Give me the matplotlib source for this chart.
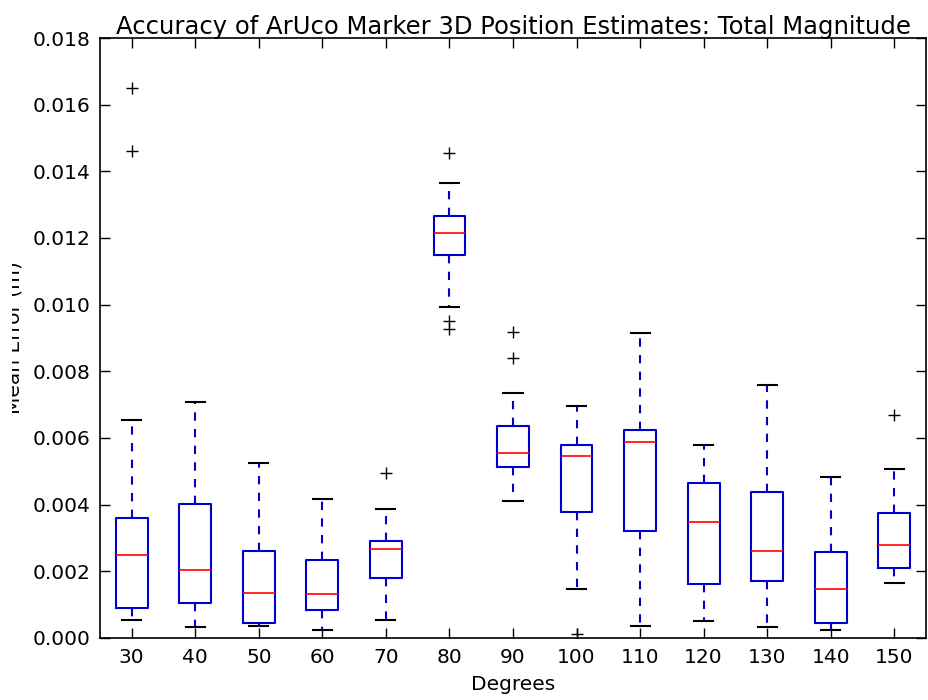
import matplotlib
matplotlib.use("Agg")
import matplotlib.pyplot as plt
from matplotlib.transforms import Bbox

degrees = [30, 40, 50, 60, 70, 80, 90, 100, 110, 120, 130, 140, 150]
whisker_low = [0.00055, 0.00033, 0.00037, 0.00023, 0.00055, 0.00993, 0.00410, 0.00146, 0.00037, 0.00052, 0.00033, 0.00023, 0.00165]
q1 = [0.00091, 0.00104, 0.00044, 0.00083, 0.00181, 0.01148, 0.00514, 0.00377, 0.00320, 0.00161, 0.00170, 0.00044, 0.00210]
median = [0.00250, 0.00203, 0.00134, 0.00131, 0.00266, 0.01215, 0.00554, 0.00545, 0.00587, 0.00349, 0.00262, 0.00146, 0.00278]
q3 = [0.00359, 0.00401, 0.00261, 0.00233, 0.00290, 0.01267, 0.00637, 0.00580, 0.00624, 0.00464, 0.00438, 0.00257, 0.00376]
whisker_high = [0.00653, 0.00707, 0.00525, 0.00418, 0.00388, 0.01366, 0.00735, 0.00696, 0.00914, 0.00580, 0.00759, 0.00482, 0.00507]
outliers = [
    [0.01649, 0.01460],
    [],
    [],
    [],
    [0.00495],
    [0.01456, 0.00950, 0.00927],
    [0.00917, 0.00840],
    [0.00013],
    [],
    [],
    [],
    [],
    [0.00669],
]
ytick_values = [0.000, 0.002, 0.004, 0.006, 0.008, 0.010, 0.012, 0.014, 0.016, 0.018]
ytick_labels = ["0.000", "0.002", "0.004", "0.006", "0.008", "0.010", "0.012", "0.014", "0.016", "0.018"]

stats = []
for i, d in enumerate(degrees):
    stats.append(dict(label=str(d), whislo=whisker_low[i], q1=q1[i], med=median[i],
                      q3=q3[i], whishi=whisker_high[i], fliers=outliers[i]))

fig = plt.figure(figsize=(9.29, 7.0), dpi=100, facecolor="white")
ax = fig.add_axes([0.1076, 0.0886, 0.8892, 0.8571])

ax.bxp(stats, widths=0.5, capwidths=0.3,
       boxprops=dict(color="#0000cc", linewidth=1.5),
       medianprops=dict(color="red", linewidth=1.2),
       whiskerprops=dict(color="#0000cc", linewidth=1.5, linestyle=(0, (4, 4))),
       capprops=dict(color="black", linewidth=1.5),
       flierprops=dict(marker="+", markeredgecolor="black", markersize=8, linestyle="none", markeredgewidth=1.0))

ax.set_ylim(0, 0.018)
ax.set_yticks(ytick_values)
ax.set_yticklabels(ytick_labels)
ax.set_xlim(0.5, len(degrees) + 0.5)

ax.tick_params(direction="in", top=True, right=True, length=7, width=1, labelsize=14.5, pad=7)
for s in ax.spines.values():
    s.set_linewidth(1.2)

ax.set_title("Accuracy of ArUco Marker 3D Position Estimates: Total Magnitude", fontsize=17.5, pad=3)
ax.set_xlabel("Degrees", fontsize=14.5, labelpad=6)
ylab = ax.set_ylabel("Mean Error (m)", fontsize=14.5)
ax.yaxis.set_label_coords(-0.092, 0.5)
# the reference shows only the lower part of the rotated label (cut on its left)
ylab.set_clip_box(Bbox.from_extents(12, 0, 929, 700))
ylab.set_clip_on(True)

fig.savefig("out.png", dpi=100, facecolor="white")
